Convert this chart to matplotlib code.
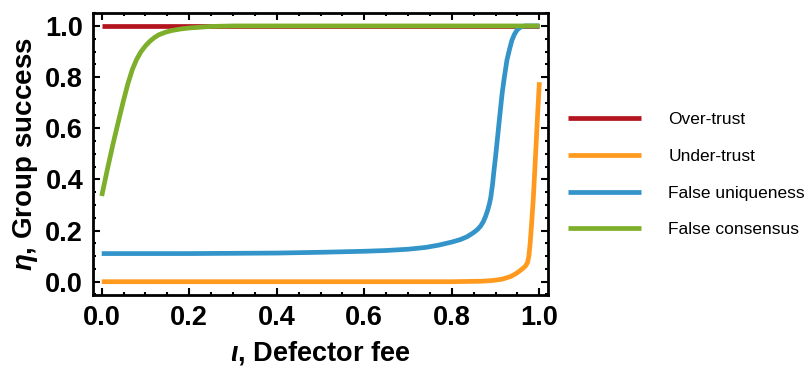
import numpy as np
import matplotlib.pyplot as plt
from matplotlib.ticker import MultipleLocator

plt.rcParams['font.family'] = ['Liberation Sans', 'DejaVu Sans']
plt.rcParams['mathtext.fontset'] = 'custom'
plt.rcParams['mathtext.it'] = 'Liberation Sans:bold:italic'
plt.rcParams['mathtext.rm'] = 'Liberation Sans:bold'

# values
over_x = [0.0, 1.0]
over_y = [1.0, 1.0]

under_x = [0.0, 0.8, 0.87, 0.895, 0.915, 0.934, 0.945, 0.955, 0.963, 0.969, 0.973,
           0.976, 0.979, 0.982, 0.986, 0.99, 0.995, 1.0]
under_y = [0.0, 0.0, 0.002, 0.005, 0.01, 0.02, 0.03, 0.042, 0.053, 0.063, 0.075,
           0.1, 0.15, 0.22, 0.32, 0.45, 0.62, 0.78]

uniq_x = [0.0, 0.2, 0.4, 0.5, 0.6, 0.65, 0.7, 0.74, 0.77, 0.8, 0.82, 0.835, 0.848,
          0.858, 0.866, 0.872, 0.877, 0.882, 0.886, 0.889, 0.893, 0.896, 0.9, 0.903,
          0.909, 0.915, 0.92, 0.926, 0.932, 0.9375, 0.943, 0.949, 0.955, 0.96, 0.967, 1.0]
uniq_y = [0.11, 0.11, 0.112, 0.115, 0.119, 0.122, 0.127, 0.134, 0.143, 0.155, 0.165,
          0.176, 0.19, 0.203, 0.218, 0.235, 0.255, 0.28, 0.305, 0.33, 0.38, 0.43, 0.49,
          0.54, 0.64, 0.737, 0.8, 0.867, 0.91, 0.945, 0.967, 0.984, 0.993, 0.997, 1.0, 1.0]

cons_x = [0.0, 0.013, 0.026, 0.04, 0.05, 0.06, 0.07, 0.08, 0.09, 0.1, 0.11, 0.12, 0.13,
          0.145, 0.16, 0.18, 0.2, 0.25, 0.3, 1.0]
cons_y = [0.335, 0.44, 0.54, 0.64, 0.71, 0.775, 0.83, 0.87, 0.9, 0.922, 0.94, 0.954, 0.965,
          0.975, 0.982, 0.988, 0.992, 0.998, 1.0, 1.0]

labels = ['Over-trust', 'Under-trust', 'False uniqueness', 'False consensus']
colors = ['#b3141d', '#ff9a1e', '#3394c9', '#7daf2b']

fig = plt.figure(figsize=(8.07, 3.77), dpi=100)
ax = fig.add_axes([0.1152, 0.2175, 0.564, 0.749])

series = [(over_x, over_y), (under_x, under_y), (uniq_x, uniq_y), (cons_x, cons_y)]
for (xs, ys), c, lab in zip(series, colors, labels):
    ax.plot(xs, ys, color=c, lw=3.4, label=lab, solid_capstyle='butt',
            solid_joinstyle='round')

ax.set_xlim(-0.02, 1.02)
ax.set_ylim(-0.052, 1.052)
ax.xaxis.set_major_locator(MultipleLocator(0.2))
ax.yaxis.set_major_locator(MultipleLocator(0.2))
ax.xaxis.set_minor_locator(MultipleLocator(0.05))
ax.yaxis.set_minor_locator(MultipleLocator(0.05))
ax.tick_params(which='both', direction='in', top=True, right=True, width=1.5)
ax.tick_params(which='major', length=5, labelsize=19.5, pad=7)
ax.tick_params(which='minor', length=2.5)
for t in ax.get_xticklabels() + ax.get_yticklabels():
    t.set_fontweight('bold')
for s in ax.spines.values():
    s.set_linewidth(2)

ax.set_xlabel(r'$\iota$, Defector fee', fontsize=19.5, fontweight='bold', labelpad=6)
ax.set_ylabel(r'$\eta$, Group success', fontsize=20, fontweight='bold', labelpad=4)

fig.legend(loc='upper left', bbox_to_anchor=(0.684, 0.745), frameon=False,
           fontsize=12.5, handlelength=4.2, handletextpad=1.6, labelspacing=1.25)

fig.savefig('out.png', dpi=100)
